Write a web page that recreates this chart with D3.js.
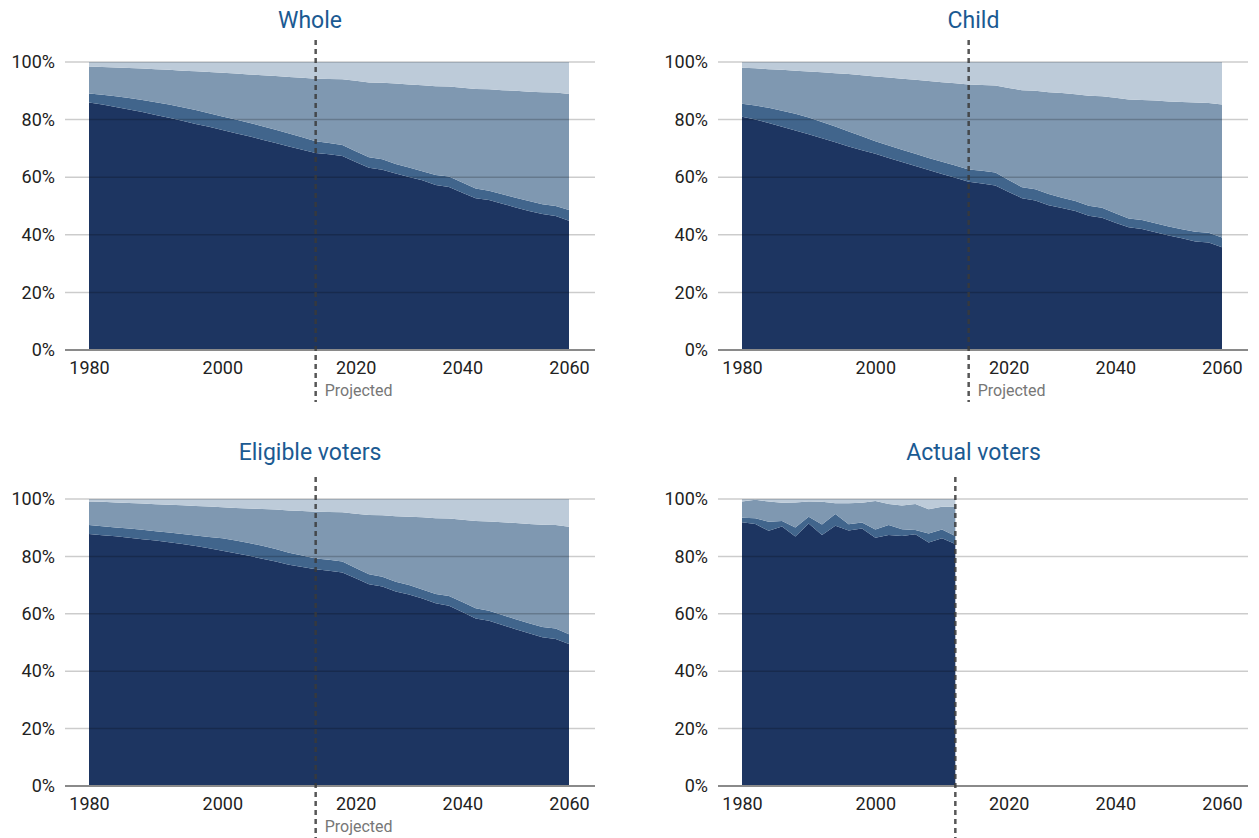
<!DOCTYPE html>
<html><head><meta charset="utf-8">
<script src="https://cdn.jsdelivr.net/npm/d3@7"></script>
<style>body{margin:0;background:#fff;} svg{display:block;font-family:Roboto, "Noto Sans", sans-serif;}</style>
</head><body><svg id="chart" width="1259" height="838"></svg>
<script>
// ---- categories (time points of the chart) ----
const periods = ["1980","1982","1984","1986","1988","1990","1992","1994","1996","1998",
  "2000","2002","2004","2006","2008","2010","2012","2014","2016","2018","2020",
  "2022","2025","2027","2030","2032","2035","2037","2040","2042","2045","2047","2050","2052","2055","2057","2060"];
const tickLabels = ["1980","2000","2020","2040","2060"];
const yTickValues = [0,20,40,60,80,100];
const seriesKeys = ["group1","group2","group3","group4"];
const projectedLabel = "Projected";

// ---- Whole population (shares, %) ----
const whole1 = [85.9,85.2,84.4,83.5,82.6,81.6,80.6,79.6,78.5,77.5,76.4,75.3,74.2,73.0,71.9,70.7,69.5,68.4,68.0,67.4,65.3,63.3,62.6,61.3,60.1,58.9,57.3,56.6,54.6,52.7,52.1,50.8,49.5,48.3,47.2,46.5,44.9];
const whole2 = [3.2,3.4,3.7,4.0,4.2,4.4,4.6,4.7,4.8,4.7,4.7,4.7,4.7,4.7,4.6,4.5,4.4,4.1,3.9,3.8,3.7,3.6,3.6,3.3,3.3,3.2,3.5,3.6,3.6,3.4,3.2,3.3,3.4,3.4,3.4,3.5,3.7];
const whole3 = [9.3,9.7,10.0,10.4,10.9,11.5,12.1,12.7,13.5,14.3,15.2,16.0,16.8,17.7,18.6,19.6,20.6,21.7,22.2,22.8,24.5,26.0,26.6,27.9,28.8,29.8,30.8,31.3,32.9,34.5,35.2,36.1,37.1,38.0,38.9,39.4,40.3];
const whole4 = [1.6,1.7,1.9,2.1,2.3,2.5,2.7,3.0,3.2,3.5,3.7,4.0,4.3,4.6,4.9,5.2,5.5,5.8,5.9,6.0,6.5,7.1,7.2,7.5,7.8,8.1,8.4,8.5,8.9,9.4,9.5,9.8,10.0,10.3,10.5,10.6,11.1];

// ---- Child population ----
const child1 = [81.0,80.0,78.8,77.5,76.2,74.9,73.5,72.1,70.7,69.4,68.1,66.7,65.3,63.9,62.5,61.1,59.8,58.4,57.8,57.1,54.9,52.7,51.9,50.3,49.3,48.3,46.6,45.9,44.2,42.6,42.0,40.9,39.8,38.8,37.7,37.3,35.7];
const child2 = [4.5,4.9,5.3,5.6,5.8,5.8,5.7,5.5,5.2,4.8,4.4,4.3,4.2,4.2,4.2,4.3,4.3,4.3,4.4,4.5,4.1,3.8,3.9,3.9,3.6,3.4,3.5,3.5,3.3,3.1,3.1,3.1,3.1,3.1,3.4,3.4,3.4];
const child3 = [12.5,12.9,13.4,14.2,15.0,16.0,17.2,18.5,19.9,21.2,22.5,23.6,24.7,25.7,26.7,27.6,28.5,29.5,29.8,30.2,32.0,33.7,34.2,35.3,36.3,37.1,38.2,38.7,40.1,41.3,41.7,42.6,43.4,44.2,44.8,45.1,46.1];
const child4 = [2.0,2.2,2.5,2.7,3.0,3.3,3.6,3.9,4.2,4.6,5.0,5.4,5.8,6.2,6.6,7.0,7.4,7.8,8.0,8.2,9.0,9.8,10.0,10.5,10.8,11.2,11.7,11.9,12.4,13.0,13.2,13.4,13.7,13.9,14.1,14.2,14.8];

// ---- Eligible voters ----
const elig1 = [87.8,87.4,87.0,86.5,86.0,85.5,84.9,84.3,83.6,82.8,82.0,81.1,80.2,79.2,78.2,77.1,76.3,75.5,75.0,74.4,72.4,70.3,69.5,67.8,66.7,65.3,63.7,62.8,60.6,58.4,57.6,56.1,54.6,53.2,51.8,51.2,49.5];
const elig2 = [3.1,3.1,3.1,3.2,3.3,3.3,3.4,3.5,3.7,4.0,4.3,4.4,4.5,4.5,4.4,4.2,4.0,3.8,3.8,3.8,3.6,3.5,3.4,3.4,3.3,3.2,3.2,3.4,3.5,3.5,3.5,3.5,3.5,3.5,3.6,3.7,3.4];
const elig3 = [8.2,8.5,8.7,8.9,9.1,9.4,9.7,10.0,10.3,10.6,10.8,11.4,12.0,12.8,13.7,14.7,15.5,16.3,16.7,17.2,18.9,20.6,21.4,22.8,23.8,25.1,26.4,27.0,28.7,30.4,31.1,32.3,33.5,34.6,35.6,36.0,37.4];
const elig4 = [0.9,1.0,1.2,1.4,1.6,1.8,2.0,2.2,2.4,2.6,2.9,3.1,3.3,3.5,3.7,4.0,4.2,4.4,4.5,4.6,5.1,5.6,5.7,6.0,6.2,6.4,6.7,6.8,7.2,7.7,7.8,8.1,8.4,8.7,9.0,9.1,9.7];

// ---- Actual voters (1980-2012 only) ----
const actual1 = [91.9,91.3,88.9,90.4,86.9,91.5,87.5,90.7,89.0,89.7,86.5,87.5,87.1,87.7,84.8,86.3,84.3];
const actual2 = [1.6,2.0,3.2,1.9,3.2,2.3,3.6,4.1,2.2,2.1,2.9,3.4,2.4,1.5,3.2,3.1,2.8];
const actual3 = [5.6,6.4,7.0,6.4,8.7,5.3,7.9,3.7,7.3,6.9,9.9,7.4,8.2,9.1,8.4,7.9,10.2];
const actual4 = [0.9,0.3,0.9,1.3,1.2,0.9,1.0,1.5,1.5,1.3,0.7,1.7,2.3,1.7,3.6,2.7,2.7];

const colors = ["#1d3561","#41658c","#7f98b1","#bdcbd9"];

const panels = [
  {title:"Whole", series:[whole1,whole2,whole3,whole4], split:"2014", showProj:true, x0:89, top:62, bottom:350, titleX:310, titleY:28},
  {title:"Child", series:[child1,child2,child3,child4], split:"2014", showProj:true, x0:742, top:62, bottom:350, titleX:973.5, titleY:28},
  {title:"Eligible voters", series:[elig1,elig2,elig3,elig4], split:"2014", showProj:true, x0:89, top:499, bottom:786, titleX:310, titleY:460},
  {title:"Actual voters", series:[actual1,actual2,actual3,actual4], split:"2012", showProj:false, x0:742, top:499, bottom:786, titleX:973.5, titleY:460}
];

const svg = d3.select("#chart");
const plotW = 480, gridLeft = 24, gridRight = 26;

panels.forEach(p => {
  const g = svg.append("g");
  const x = d3.scalePoint().domain(periods).range([p.x0, p.x0 + plotW]);
  const y = d3.scaleLinear().domain([0,100]).range([p.bottom, p.top]);
  const n = p.series[0].length;
  const rows = periods.slice(0, n).map((per, i) => {
    const r = {period: per};
    seriesKeys.forEach((k, j) => r[k] = p.series[j][i]);
    return r;
  });
  const stacked = d3.stack().keys(seriesKeys)(rows);
  const area = d3.area()
    .x(d => x(d.data.period))
    .y0(d => y(d[0]))
    .y1(d => y(d[1]));
  g.selectAll("path.layer").data(stacked).join("path")
    .attr("class","layer")
    .attr("d", area)
    .attr("fill", (d,i) => colors[i]);

  const gx0 = p.x0 - gridLeft, gx1 = p.x0 + plotW + gridRight;
  // gridlines
  g.selectAll("line.grid").data(yTickValues.filter(v => v > 0)).join("line")
    .attr("class","grid")
    .attr("x1", gx0).attr("x2", gx1)
    .attr("y1", d => y(d)).attr("y2", d => y(d))
    .attr("stroke", "#000").attr("stroke-opacity", 0.2).attr("stroke-width", 1.5);
  // baseline
  g.append("line")
    .attr("x1", gx0).attr("x2", gx1)
    .attr("y1", y(0)).attr("y2", y(0))
    .attr("stroke", "#8a8a8a").attr("stroke-width", 2);

  // y axis labels
  const yAxis = d3.axisLeft(y).tickValues(yTickValues).tickSize(0).tickPadding(10).tickFormat(d => d + "%");
  const ya = g.append("g").attr("transform", `translate(${gx0},0)`).call(yAxis);
  ya.select(".domain").remove();
  ya.selectAll("text").attr("font-size", 18).attr("fill", "#222").attr("font-family", "Roboto, sans-serif");

  // x axis labels
  const xAxis = d3.axisBottom(x).tickValues(tickLabels).tickSize(0).tickPadding(11);
  const xa = g.append("g").attr("transform", `translate(0,${p.bottom})`).call(xAxis);
  xa.select(".domain").remove();
  xa.selectAll("text").attr("font-size", 18).attr("fill", "#222").attr("font-family", "Roboto, sans-serif");

  // projection divider
  const sx = x(p.split);
  g.append("line")
    .attr("x1", sx).attr("x2", sx)
    .attr("y1", p.top - 22).attr("y2", p.bottom + 52)
    .attr("stroke", "#3a3a3a").attr("stroke-width", 2.5)
    .attr("stroke-dasharray", "5 4").attr("stroke-opacity", 0.85);
  if (p.showProj) {
    g.append("text")
      .attr("x", sx + 9).attr("y", p.bottom + 46)
      .attr("font-size", 16).attr("fill", "#777")
      .text(projectedLabel);
  }

  // title
  g.append("text")
    .attr("x", p.titleX).attr("y", p.titleY)
    .attr("text-anchor", "middle")
    .attr("font-size", 23).attr("fill", "#1b5a92")
    .text(p.title);
});
</script>
</body></html>
